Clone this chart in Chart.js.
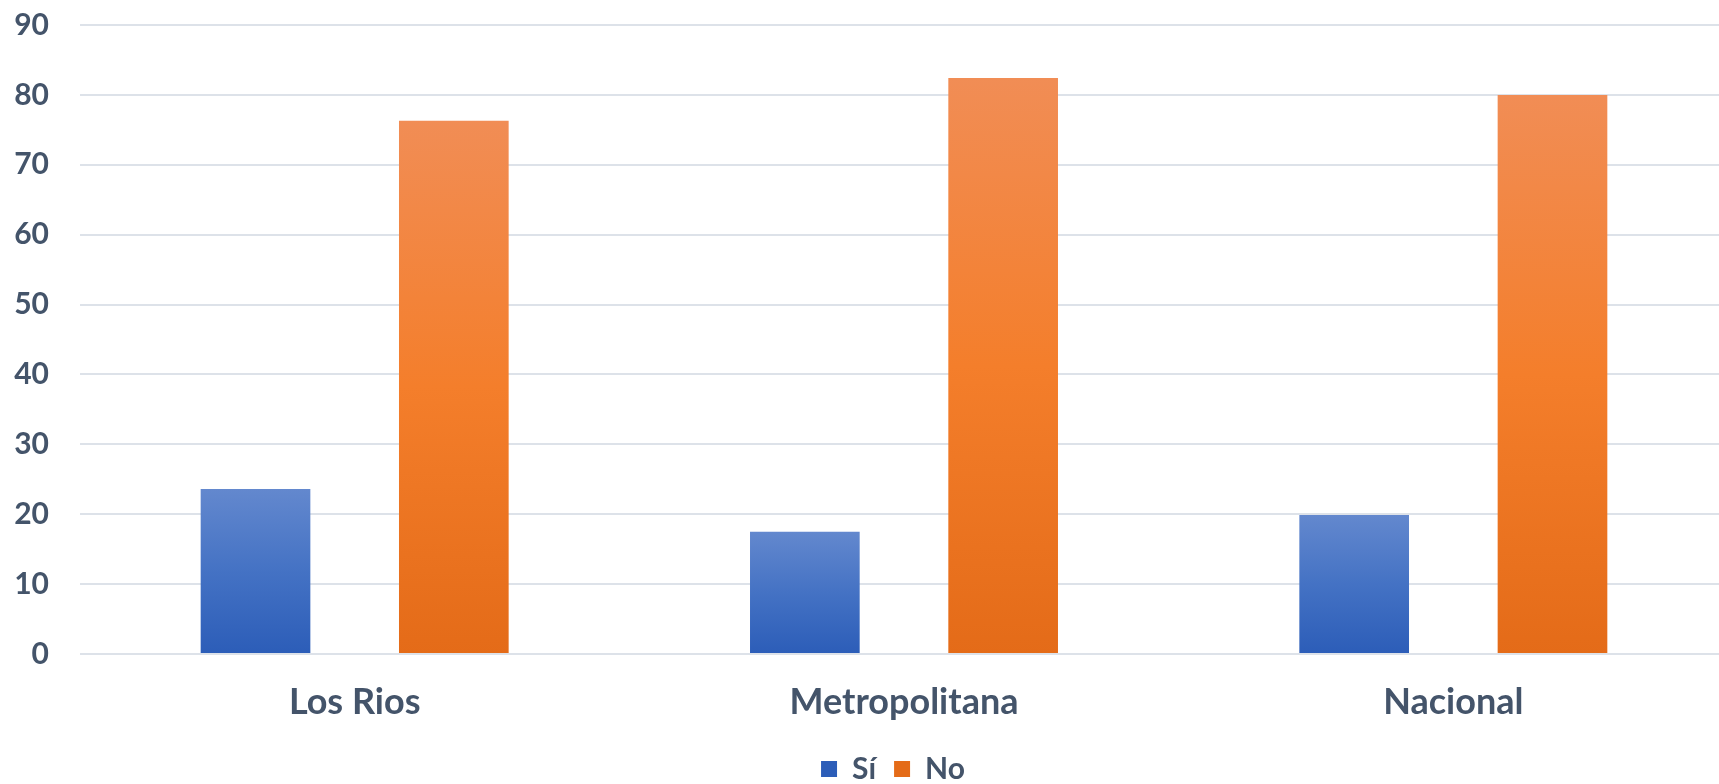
<!DOCTYPE html>
<html>
<head>
<meta charset="utf-8">
<script src="https://cdn.jsdelivr.net/npm/chart.js@4/dist/chart.umd.min.js"></script>
<style>
  html, body { margin: 0; padding: 0; background: #fff; overflow: hidden; }
  #wrap { width: 1735px; height: 818px; position: absolute; left: 0; top: -24px; }
</style>
</head>
<body>
<div id="wrap"><canvas id="chart"></canvas></div>
<script>
const categories = ['Los Rios', 'Metropolitana', 'Nacional'];
const siValues = [23.6, 17.5, 19.9];
const noValues = [76.3, 82.4, 80.0];
const yTicks = [0, 10, 20, 30, 40, 50, 60, 70, 80, 90];

const labelColor = '#44546A';
const blueStops = ['#6388CE', '#4472C4', '#2C5DB8'];
const orangeStops = ['#F18D55', '#F47E2B', '#E46B18'];

// gradient per bar, from its top down to zero
function barGradient(context, stops) {
  const chart = context.chart;
  if (!chart.chartArea || !context.parsed) return stops[1];
  const y = chart.scales.y;
  const top = y.getPixelForValue(context.parsed.y);
  const bottom = y.getPixelForValue(0);
  const g = chart.ctx.createLinearGradient(0, top, 0, bottom);
  g.addColorStop(0, stops[0]);
  g.addColorStop(0.5, stops[1]);
  g.addColorStop(1, stops[2]);
  return g;
}

// nudge the legend a bit to the right, as in the original
const shiftLegend = {
  id: 'shiftLegend',
  afterLayout(chart) {
    chart.legend.left += 24;
    chart.legend.right += 24;
  }
};

new Chart(document.getElementById('chart'), {
  type: 'bar',
  plugins: [shiftLegend],
  data: {
    labels: categories,
    datasets: [
      {
        label: 'Sí',
        data: siValues,
        backgroundColor: ctx => barGradient(ctx, blueStops),
        categoryPercentage: 0.722,
        barPercentage: 0.553
      },
      {
        label: 'No',
        data: noValues,
        backgroundColor: ctx => barGradient(ctx, orangeStops),
        categoryPercentage: 0.722,
        barPercentage: 0.553
      }
    ]
  },
  options: {
    responsive: true,
    maintainAspectRatio: false,
    animation: false,
    layout: { padding: { top: 6, right: 7, left: 10, bottom: 0 } },
    plugins: {
      tooltip: { enabled: false },
      legend: {
        position: 'bottom',
        labels: {
          color: labelColor,
          font: { family: 'Lato', size: 30, weight: 'bold' },
          boxWidth: 16,
          boxHeight: 16,
          padding: 18
        }
      }
    },
    scales: {
      x: {
        grid: { display: false },
        border: { display: false },
        afterFit: axis => { axis.height = 82; },
        ticks: {
          color: labelColor,
          padding: 19,
          font: { family: 'Lato', size: 36, weight: 'bold' }
        }
      },
      y: {
        min: 0,
        max: 90,
        afterBuildTicks: axis => { axis.ticks = yTicks.map(v => ({ value: v })); },
        afterFit: axis => { axis.width = 70; },
        border: { display: false },
        grid: { color: '#DDE2E9', lineWidth: 2, drawTicks: false },
        ticks: {
          color: labelColor,
          padding: 31,
          font: { family: 'Lato', size: 30, weight: 'bold' }
        }
      }
    }
  }
});
</script>
</body>
</html>
